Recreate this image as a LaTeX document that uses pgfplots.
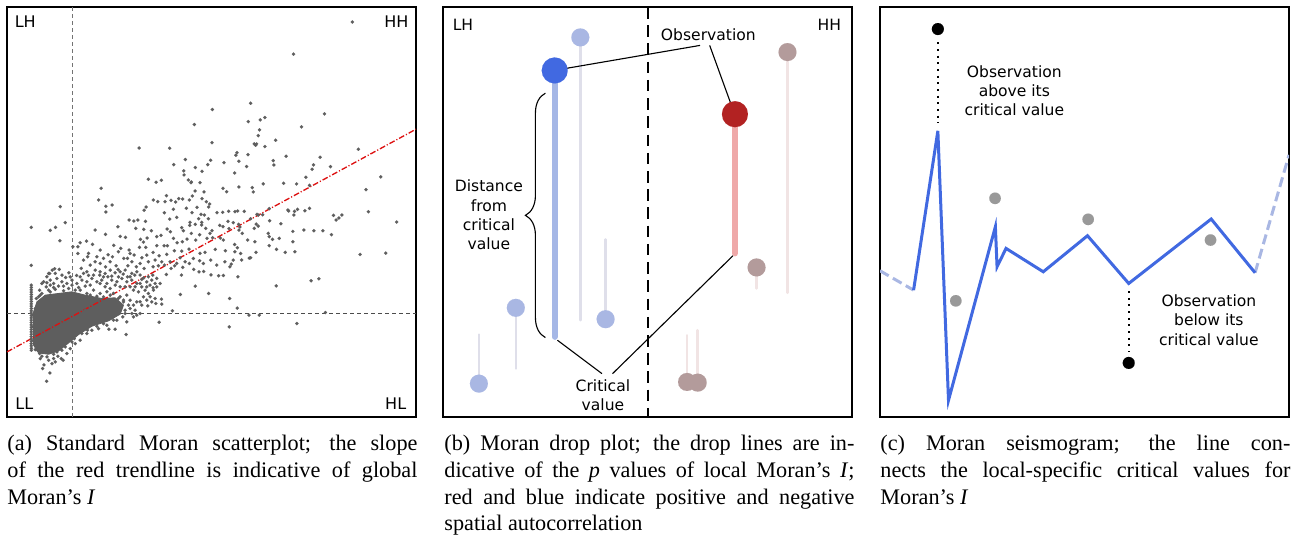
\documentclass[border=0pt]{standalone}
\usepackage{fontspec}
\setmainfont{Liberation Serif}
\newfontfamily\dv{DejaVu Sans}
\usepackage{pgfplots}
\pgfplotsset{compat=1.18}
\usetikzlibrary{decorations.pathreplacing}
\definecolor{dotgray}{HTML}{5E5E5E}
\definecolor{royal}{HTML}{4169E1}
\definecolor{bluestem}{HTML}{A5B7E6}
\definecolor{bluefade}{HTML}{A9B7E3}
\definecolor{lavstem}{HTML}{DFDFEA}
\definecolor{firebrick}{HTML}{B22222}
\definecolor{pinkstem}{HTML}{EFA9A9}
\definecolor{brownfade}{HTML}{B39B9B}
\definecolor{brownstem}{HTML}{F1E4E4}
\definecolor{graydot}{HTML}{999999}
\definecolor{trend}{HTML}{DD1111}
\pgfplotsset{panel/.style={scale only axis, width=184.05pt, height=184.5pt,
  xtick=\empty, ytick=\empty, y dir=reverse,
  axis line style={black, line width=0.6pt}},
  dots/.style={only marks, mark=*, color=#1, mark options={line width=0.01pt}}}
\tikzset{lab/.style={font=\dv\fontsize{7}{8.65}\selectfont, align=center, inner sep=0pt}}
\begin{document}
\begin{tikzpicture}
\useasboundingbox (0,0) rectangle (581.85pt,-244.35pt);
% ---------------- panel (a)
\begin{axis}[panel, at={(3.15pt,-3.15pt)}, anchor=north west,
  xmin=20, xmax=1249, ymin=22, ymax=1250]
\addplot[gray!90!black, line width=0.5pt, dash pattern=on 1.8pt off 1.35pt] coordinates {(218,22) (218,1250)};
\addplot[gray!60!black, line width=0.5pt, dash pattern=on 1.8pt off 1.35pt] coordinates {(20,940) (1249,940)};
\addplot[fill=dotgray, draw=dotgray] coordinates {(100,935) (110,905) (135,885) (175,880) (215,875) (255,885) (305,895) (345,893) (370,915) (360,942) (325,962) (275,978) (235,1003) (205,1028) (175,1052) (145,1062) (115,1058) (100,1035)} -- cycle;
\addplot[dots=dotgray, mark size=0.78pt] table[row sep=\\] {
x y\\
1058 67\\ 881 163\\ 752 310\\ 637 329\\ 974 342\\ 795 353\\ 781 360\\ 745 365\\ 583 374\\ 905 381\\ 779 390\\ 775 407\\ 827 421\\ 763 432\\ 770 432\\ 767 436\\ 636 428\\ 795 440\\ 417 444\\ 509 445\\ 1076 448\\
711 458\\ 708 466\\ 744 464\\ 859 469\\ 961 472\\ 556 479\\ 632 481\\ 672 488\\ 717 484\\ 820 482\\ 822 495\\ 623 494\\ 941 495\\ 521 494\\ 992 500\\ 740 500\\ 586 503\\ 937 508\\ 551 513\\ 606 514\\ 704 519\\ 552 525\\ 918 532\\ 1143 531\\ 445 538\\ 565 540\\ 574 546\\ 484 541\\ 468 547\\ 600 548\\ 573 548\\
790 552\\ 851 550\\ 890 552\\ 929 556\\ 303 565\\ 669 565\\ 717 561\\ 757 563\\ 760 576\\ 680 575\\ 585 573\\ 612 576\\ 1099 569\\ 499 587\\ 577 588\\ 536 596\\ 460 600\\ 295 600\\ 548 597\\ 513 601\\ 606 596\\ 527 606\\ 568 600\\ 495 605\\ 619 605\\ 473 605\\ 336 615\\ 317 619\\ 180 620\\ 629 612\\ 626 621\\ 438 621\\ 520 628\\ 591 622\\ 559 625\\ 432 631\\ 317 636\\ 493 638\\ 576 638\\ 603 643\\ 613 645\\ 713 633\\ 651 638\\ 668 637\\ 686 634\\ 705 635\\ 733 634\\ 771 643\\ 808 626\\ 864 630\\ 893 628\\ 866 633\\ 884 634\\ 882 645\\ 929 625\\ 915 632\\ 1106 635\\ 1001 646\\ 1026 645\\
1017 654\\ 1009 660\\ 775 645\\ 788 644\\ 752 656\\ 809 662\\ 843 671\\ 1191 666\\ 413 660\\ 401 663\\ 387 660\\ 436 664\\ 509 657\\ 530 652\\ 570 667\\ 596 656\\ 605 667\\ 625 656\\ 545 683\\ 569 676\\ 586 673\\ 605 675\\ 617 685\\ 636 692\\ 659 676\\ 669 680\\ 684 664\\ 700 668\\ 716 673\\ 720 681\\ 769 672\\ 775 678\\ 195 668\\ 166 682\\ 150 691\\ 93 682\\ 285 690\\ 353 680\\ 407 685\\ 431 688\\ 454 692\\ 501 687\\ 511 695\\ 550 692\\ 574 700\\ 599 704\\ 630 700\\ 661 714\\ 687 686\\ 717 690\\ 727 700\\ 763 685\\ 805 700\\ 808 710\\ 838 715\\ 818 718\\ 879 694\\ 912 690\\ 942 692\\ 969 692\\ 995 704\\ 179 722\\ 259 723\\ 316 703\\ 360 709\\ 376 712\\ 421 718\\ 430 726\\ 441 714\\ 470 710\\ 483 706\\ 520 715\\ 531 728\\ 547 725\\ 561 717\\ 587 720\\ 621 715\\ 638 713\\ 670 720\\ 704 733\\ 712 743\\ 743 720\\ 765 725\\ 808 737\\ 830 748\\ 879 725\\ 240 728\\ 233 740\\ 218 740\\ 277 733\\ 341 736\\ 362 745\\ 387 750\\ 418 742\\ 437 742\\ 470 737\\ 492 737\\ 502 737\\ 523 752\\ 545 753\\ 567 747\\ 646 748\\
885 755\\ 856 757\\ 600 760\\ 615 757\\ 676 752\\ 705 755\\ 722 760\\ 768 757\\ 752 773\\ 748 774\\ 1081 763\\ 1158 759\\ 233 760\\ 93 796\\ 324 764\\ 337 770\\ 371 775\\ 382 775\\ 402 765\\ 425 773\\ 459 757\\ 477 767\\ 500 763\\ 540 773\\ 599 782\\ 632 780\\ 675 785\\ 694 792\\ 700 780\\ 725 780\\ 270 795\\ 243 805\\ 285 785\\ 300 790\\ 316 800\\ 348 797\\ 354 808\\ 383 797\\ 409 800\\ 432 805\\ 459 800\\ 475 797\\ 493 795\\ 513 805\\ 524 797\\ 548 802\\ 568 790\\ 581 808\\ 597 815\\ 611 814\\ 650 795\\ 690 800\\ 656 827\\ 670 826\\ 714 830\\ 633 824\\ 156 810\\ 163 806\\ 177 808\\ 148 820\\ 206 818\\ 196 832\\ 229 826\\ 265 826\\ 299 825\\ 323 830\\ 345 818\\ 369 822\\ 382 830\\ 404 825\\ 431 833\\ 458 825\\ 499 823\\ 544 825\\
586 858\\ 626 880\\ 689 895\\ 712 924\\ 829 857\\ 934 842\\ 957 836\\ 977 937\\ 747 945\\ 778 945\\ 891 970\\ 688 980\\ 517 932\\ 477 966\\ 541 883\\ 484 897\\ 485 912\\ 467 910\\ 443 917\\ 459 863\\ 378 1003\\ 345 987\\ 326 987\\
140 830\\ 150 840\\ 160 850\\ 170 835\\ 185 845\\ 200 850\\ 215 840\\ 230 850\\ 245 840\\ 260 845\\ 275 835\\ 290 845\\ 305 840\\ 320 850\\ 335 840\\ 350 845\\ 365 835\\ 380 845\\ 395 840\\ 410 850\\ 425 838\\ 440 845\\ 455 840\\ 138 860\\ 145 870\\ 300 815\\ 315 820\\ 330 810\\ 360 815\\ 375 810\\ 395 820\\ 410 815\\ 285 810\\ 260 815\\ 250 820\\ 125 850\\ 118 870\\ 130 845\\
127 1105\\ 139 1143\\ 149 1118\\ 131 1094\\ 183 1075\\ 189 1080\\ 173 1068\\ 160 1075\\ 145 1080\\ 120 1075\\ 155 1090\\ 165 1085\\ 200 1060\\ 210 1045\\ 225 1030\\ 240 1020\\ 260 1000\\ 275 990\\ 295 985\\ 320 975\\ 350 960\\ 380 965\\ 300 960\\ 400 950\\ 420 940\\ 410 905\\ 430 890\\ 445 880\\ 460 870\\ 470 860\\ 440 860\\ 420 850\\ 400 870\\ 415 875\\ 425 915\\ 375 940\\ 390 925\\ 405 930\\
240 870\\ 260 880\\ 280 870\\ 300 880\\ 320 875\\ 340 880\\ 360 890\\ 380 885\\ 250 900\\ 270 905\\ 290 900\\ 310 905\\ 330 900\\ 350 910\\ 370 905\\ 390 900\\ 255 930\\ 280 935\\ 300 930\\ 330 930\\ 350 935\\ 240 950\\ 265 960\\ 285 950\\ 230 985\\ 250 975\\ 210 990\\ 195 1010\\ 180 1040\\ 170 1055\\
105 925\\ 103 960\\ 106 1000\\ 108 1030\\ 112 1050\\ 118 1060\\ 115 890\\ 125 880\\
108 895\\ 120 885\\ 150 875\\ 165 868\\ 190 872\\ 205 865\\ 225 870\\ 235 862\\ 270 885\\ 290 888\\ 310 890\\ 330 885\\ 355 895\\ 370 900\\ 385 915\\
375 930\\ 368 950\\ 340 960\\ 310 970\\ 290 978\\ 262 990\\ 245 1000\\ 222 1015\\ 215 1025\\ 195 1040\\ 185 1050\\ 160 1062\\ 140 1070\\ 125 1068\\ 105 1048\\ 100 1020\\ 98 980\\ 98 945\\
300 850\\ 315 860\\ 330 865\\ 345 855\\ 360 860\\ 375 860\\ 390 860\\ 405 860\\ 270 855\\ 255 858\\ 215 855\\ 190 858\\ 175 858\\ 160 862\\ 150 855\\ 140 848\\ 145 820\\ 165 820\\ 185 825\\ 210 830\\ 240 830\\ 280 825\\ 310 830\\ 335 828\\ 355 830\\ 390 830\\ 420 825\\ 445 830\\ 470 835\\ 480 850\\ 465 850\\ 450 855\\ 435 870\\ 425 860\\ 450 890\\ 465 895\\ 455 905\\ 440 900\\ 420 905\\ 400 915\\ 395 940\\ 410 945\\ 360 925\\ 340 945\\ 320 940\\ 310 950\\ 290 965\\ 270 970\\ 250 985\\ 230 1000\\ 205 1000\\ 185 1020\\ 165 1035\\ 150 1045\\ 135 1050\\
250 780\\ 262 770\\ 290 770\\ 310 775\\ 330 785\\ 395 785\\ 420 790\\ 445 785\\ 465 780\\ 485 785\\ 510 785\\ 530 790\\ 555 785\\ 580 775\\ 610 790\\ 440 765\\ 390 760\\ 355 755\\ 300 750\\ 265 760\\
93 855\\ 93 862\\ 93 869\\ 93 876\\ 93 883\\ 93 890\\ 93 897\\ 93 904\\ 93 911\\ 93 918\\ 93 925\\ 93 932\\ 93 939\\ 93 946\\ 93 953\\ 93 960\\ 93 967\\ 93 974\\ 93 981\\ 93 988\\ 93 995\\ 93 1002\\ 93 1009\\ 93 1016\\ 93 1023\\ 93 1030\\ 93 1037\\ 93 1044\\ 93 1050\\
};
\addplot[trend, line width=0.6pt, dash pattern=on 2.6pt off 0.9pt on 0.5pt off 0.9pt] coordinates {(20,1055) (1249,388)};
\node[lab, font=\dv\fontsize{7.2}{8.65}\selectfont] at (axis cs:75,65) {LH};
\node[lab, font=\dv\fontsize{7.2}{8.65}\selectfont] at (axis cs:1190,65) {HH};
\node[lab, font=\dv\fontsize{7.2}{8.65}\selectfont] at (axis cs:72,1210) {LL};
\node[lab, font=\dv\fontsize{7.2}{8.65}\selectfont] at (axis cs:1188,1210) {HL};
\end{axis}
% ---------------- panel (b)
\begin{axis}[panel, at={(199.35pt,-3.15pt)}, anchor=north west,
  xmin=10, xmax=1240, ymin=22, ymax=1250]
\addplot[black, line width=0.9pt, dash pattern=on 5.2pt off 3pt] coordinates {(625,22) (625,1250)};
% faded stems
\addplot[lavstem, line width=1.15pt, line cap=round] coordinates {(423,113) (423,960)};
\addplot[lavstem, line width=1.15pt, line cap=round] coordinates {(229,923) (229,1105)};
\addplot[lavstem, line width=1.15pt, line cap=round] coordinates {(118,1150) (118,1003)};
\addplot[lavstem, line width=1.15pt, line cap=round] coordinates {(499,957) (499,718)};
\addplot[brownstem, line width=1.15pt, line cap=round] coordinates {(1046,157) (1046,878)};
\addplot[brownstem, line width=1.15pt, line cap=round] coordinates {(953,802) (953,865)};
\addplot[brownstem, line width=1.15pt, line cap=round] coordinates {(744,1145) (744,1005)};
\addplot[brownstem, line width=1.15pt, line cap=round] coordinates {(776,1147) (776,990)};
% main stems
\addplot[bluestem, line width=2.7pt, line cap=round] coordinates {(346,212) (346,1010)};
\addplot[pinkstem, line width=2.7pt, line cap=round] coordinates {(888,343) (888,760)};
% circles
\addplot[dots=bluefade, mark size=4.05pt] coordinates {(423,113) (229,923) (118,1150) (499,957)};
\addplot[dots=brownfade, mark size=4.05pt] coordinates {(1046,157) (953,802) (744,1145) (776,1147)};
\addplot[dots=royal, mark size=5.85pt] coordinates {(346,212)};
\addplot[dots=firebrick, mark size=5.85pt] coordinates {(888,343)};
% annotations
\draw[black, line width=0.5pt] (axis cs:783,137) -- (axis cs:350,211);
\draw[black, line width=0.5pt] (axis cs:812,137) -- (axis cs:886,340);
\draw[black, line width=0.5pt] (axis cs:354,1020) -- (axis cs:488,1120);
\draw[black, line width=0.5pt] (axis cs:520,1120) -- (axis cs:882,767);
\draw[black, line width=0.5pt, decorate, decoration={brace, amplitude=9pt}] (axis cs:318,1012) -- (axis cs:318,280);
\node[lab] at (axis cs:70,75) {LH};
\node[lab] at (axis cs:1172,75) {HH};
\node[lab] at (axis cs:808,105) {Observation};
\node[lab] at (axis cs:148,645) {Distance\\from\\critical\\value};
\node[lab] at (axis cs:491,1185) {Critical\\value};
\end{axis}
% ---------------- panel (c)
\begin{axis}[panel, at={(396pt,-3.15pt)}, anchor=north west,
  xmin=14, xmax=1244, ymin=22, ymax=1250]
\addplot[bluefade, line width=1.35pt, dash pattern=on 4.5pt off 2.2pt] coordinates {(14,812) (115,870)};
\addplot[bluefade, line width=1.35pt, dash pattern=on 4.5pt off 2.2pt] coordinates {(1142,818) (1244,465)};
\addplot[royal, line width=1.35pt, line join=miter] coordinates {(115,870) (188,393) (220,1200) (361,680) (366,800) (393,745) (505,815) (638,707) (762,850) (1010,657) (1142,818)};
\addplot[black, line width=0.9pt, dash pattern=on 0.9pt off 2.1pt] coordinates {(188,128) (188,370)};
\addplot[black, line width=0.9pt, dash pattern=on 0.9pt off 2.1pt] coordinates {(762,873) (762,1055)};
\addplot[dots=graydot, mark size=2.6pt] coordinates {(242,902) (360,595) (640,658) (1008,720)};
\addplot[dots=black, mark size=2.7pt] coordinates {(188,88) (762,1088)};
\node[lab] at (axis cs:418,272) {Observation\\above its\\critical value};
\node[lab] at (axis cs:1003,960) {Observation\\below its\\critical value};
\end{axis}
% ---------------- captions
\begin{scope}[every node/.style={anchor=north west, inner sep=0pt, text width=184.5pt, align=justify, font=\fontsize{10}{12}\selectfont}]
\node at (3.15pt,-195.7pt) {(a) Standard Moran scatterplot; the slope\linebreak of the red trendline is indicative of global\linebreak Moran’s \textit{I}};
\node at (199.8pt,-195.7pt) {(b) Moran drop plot; the drop lines are in-\linebreak dicative of the \textit{p} values of local Moran’s \textit{I};\linebreak red and blue indicate positive and negative\linebreak spatial autocorrelation};
\node at (396pt,-195.7pt) {(c) Moran seismogram; the line con-\linebreak nects the local-specific critical values for\linebreak Moran’s \textit{I}};
\end{scope}
\end{tikzpicture}
\end{document}
